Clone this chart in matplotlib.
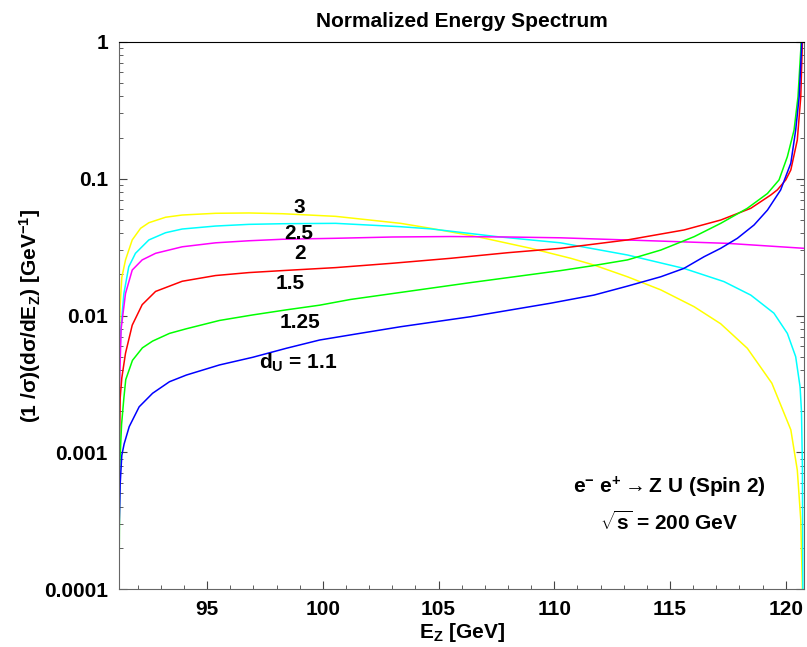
import matplotlib
matplotlib.use('Agg')
import matplotlib.pyplot as plt
from matplotlib.ticker import FixedLocator, NullFormatter
import numpy as np

plt.rcParams['font.family'] = ['Liberation Sans', 'DejaVu Sans']
plt.rcParams['font.weight'] = 'bold'
plt.rcParams['mathtext.fontset'] = 'custom'
plt.rcParams['mathtext.rm'] = 'Liberation Sans:bold'
plt.rcParams['mathtext.bf'] = 'Liberation Sans:bold'
plt.rcParams['mathtext.it'] = 'Liberation Sans:bold'
plt.rcParams['mathtext.default'] = 'bf'

# ------------------------------------------------------------------
# data (E_Z in GeV, normalized spectrum)
# ------------------------------------------------------------------
E_3 = [91.19, 91.20, 91.24, 91.31, 91.47, 91.76, 92.12, 92.48, 93.20, 93.92,
       95.36, 96.80, 98.25, 100.55, 103.36, 104.66, 106.67, 108.98, 110.71,
       111.71, 113.16, 114.6, 116.04, 117.19, 118.34, 119.4, 120.22, 120.5,
       120.65, 120.72]
V_3 = [1e-4, 0.005, 0.012, 0.019, 0.0255, 0.0357, 0.0434, 0.0477, 0.0523, 0.0543,
       0.0559, 0.0562, 0.0555, 0.0531, 0.0472, 0.0434, 0.0377, 0.031, 0.0262,
       0.0234, 0.0192, 0.0154, 0.0116, 0.0087, 0.00576, 0.0032, 0.00146, 0.00074,
       0.00032, 1e-4]

E_25 = [91.19, 91.21, 91.27, 91.40, 91.61, 91.90, 92.48, 93.20, 93.92, 95.36,
        96.80, 98.25, 100.55, 103.36, 104.66, 107.54, 110.27, 113.16, 115.6,
        117.33, 118.49, 119.49, 120.07, 120.43, 120.62, 120.68, 120.72, 120.74]
V_25 = [1e-4, 0.004, 0.008, 0.0145, 0.0227, 0.0285, 0.0357, 0.0403, 0.0429, 0.0451,
        0.0464, 0.0469, 0.0472, 0.0446, 0.0430, 0.0377, 0.034, 0.0277, 0.0221,
        0.0177, 0.0141, 0.0104, 0.0074, 0.0050, 0.0030, 0.0020, 0.0008, 1e-4]

E_2 = [91.19, 91.21, 91.28, 91.47, 91.76, 92.19, 92.77, 93.92, 95.36, 96.80,
       98.25, 100.55, 103.0, 105.5, 108.0, 110.27, 114.6, 117.48, 120.79]
V_2 = [1e-4, 0.003, 0.008, 0.0145, 0.0215, 0.0255, 0.0285, 0.0318, 0.0340, 0.0352,
       0.0361, 0.0367, 0.0375, 0.0378, 0.0375, 0.0370, 0.0350, 0.0337, 0.0310]

E_15 = [91.19, 91.20, 91.24, 91.31, 91.47, 91.76, 92.19, 92.77, 93.92, 95.36,
        96.80, 98.25, 100.55, 103.0, 105.52, 108.0, 110.27, 113.16, 115.6,
        117.19, 118.49, 119.35, 119.64, 120.0, 120.22, 120.5, 120.65, 120.72,
        120.75]
V_15 = [1e-4, 0.001, 0.0025, 0.0035, 0.0053, 0.0085, 0.0120, 0.0150, 0.0178, 0.0196,
        0.0206, 0.0213, 0.0224, 0.0241, 0.0262, 0.0288, 0.031, 0.0357, 0.0422,
        0.0499, 0.0608, 0.0760, 0.083, 0.098, 0.116, 0.192, 0.398, 1.0,
        1.5]

E_125 = [91.19, 91.22, 91.30, 91.40, 91.48, 91.77, 92.2, 92.64, 93.37, 94.10,
         95.53, 96.97, 98.42, 99.86, 101.19, 106.38, 110.27, 111.57, 113.16,
         114.6, 116.04, 117.19, 118.34, 119.21, 119.71, 120.07, 120.36, 120.53,
         120.65, 120.70]
V_125 = [1e-4, 0.0008, 0.0016, 0.0025, 0.0034, 0.0047, 0.0058, 0.0065, 0.0074, 0.0080,
         0.0092, 0.0101, 0.0110, 0.0119, 0.0131, 0.0174, 0.0213, 0.0230, 0.0255,
         0.0301, 0.0377, 0.0472, 0.0608, 0.078, 0.098, 0.145, 0.227, 0.398,
         0.874, 1.5]

E_11 = [91.19, 91.20, 91.24, 91.31, 91.41, 91.63, 92.06, 92.64, 93.37, 94.10,
        95.53, 96.97, 98.42, 99.86, 101.59, 103.36, 106.38, 109.84, 111.71,
        113.16, 114.6, 115.6, 116.47, 117.19, 117.91, 118.63, 119.21, 119.78,
        120.22, 120.43, 120.58, 120.68, 120.72]
V_11 = [1e-4, 0.0003, 0.00059, 0.00095, 0.00115, 0.00154, 0.00215, 0.0027, 0.00328, 0.00367,
        0.00435, 0.00495, 0.00576, 0.00662, 0.0074, 0.00828, 0.0098, 0.0123, 0.0141,
        0.0164, 0.0192, 0.0221, 0.0269, 0.031, 0.0367, 0.0459, 0.059, 0.0828,
        0.130, 0.227, 0.398, 0.874, 1.5]

series = [
    (E_3, V_3, '#FFFF00'),
    (E_25, V_25, '#00FFFF'),
    (E_2, V_2, '#FF00FF'),
    (E_15, V_15, '#FF0000'),
    (E_125, V_125, '#00FF00'),
    (E_11, V_11, '#0000FF'),
]

curve_labels = ['3', '2.5', '2', '1.5', '1.25', r'd$_{\mathbf{U}}$ = 1.1']
label_E = [99.0, 98.95, 99.0, 98.6, 99.0, 98.95]
label_V = [0.0621, 0.0401, 0.0282, 0.0170, 0.00896, 0.0045]

y_ticks = [1e-4, 1e-3, 1e-2, 1e-1, 1]
y_ticklabels = ['0.0001', '0.001', '0.01', '0.1', '1']
x_ticks = [95, 100, 105, 110, 115, 120]

FS = 15

fig = plt.figure(figsize=(8.07, 6.47), dpi=100)
ax = fig.add_axes([0.1475, 0.0896, 0.8488, 0.8455])

for E, V, c in series:
    ax.plot(E, V, color=c, lw=1.1, solid_joinstyle='round')

ax.set_yscale('log')
ax.set_xlim(91.19, 120.79)
ax.set_ylim(1e-4, 1)

ax.yaxis.set_major_locator(FixedLocator(y_ticks))
ax.set_yticklabels(y_ticklabels)
minor = [m * 10.0 ** k for k in range(-4, 0) for m in range(2, 10)]
ax.yaxis.set_minor_locator(FixedLocator(minor))
ax.yaxis.set_minor_formatter(NullFormatter())
ax.set_xticks(x_ticks)
ax.set_xticks(np.arange(92, 121, 1), minor=True)

ax.tick_params(which='both', direction='in', left=True, right=True,
               top=False, bottom=True, labelsize=FS, color='#444444', pad=8)
ax.tick_params(which='major', length=6, width=0.8)
ax.tick_params(which='minor', length=3, width=0.6)
for side in ['left', 'right', 'bottom']:
    ax.spines[side].set_color('#666666')
ax.spines['top'].set_color('black')

for t, e, v in zip(curve_labels, label_E, label_V):
    ax.text(e, v, t, fontsize=FS, fontweight='bold', ha='center', va='center')

ax.set_title('Normalized Energy Spectrum', fontsize=FS, fontweight='bold', pad=11)
ax.set_xlabel(r'E$_{\mathbf{Z}}$ [GeV]', fontsize=FS, fontweight='bold', labelpad=1)
ax.set_ylabel(r'(1 /$\sigma$)(d$\sigma$/dE$_{\mathbf{Z}}$) [GeV$^{\mathbf{-1}}$]',
              fontsize=FS, fontweight='bold', labelpad=1)

ax.text(0.803, 0.1865, r'e$^{-}$ e$^{+}$$\rightarrow$Z U (Spin 2)', transform=ax.transAxes,
        fontsize=FS, fontweight='bold', ha='center', va='center')
ax.text(0.803, 0.122, r'$\sqrt{\mathbf{s}}$ = 200 GeV', transform=ax.transAxes,
        fontsize=FS, fontweight='bold', ha='center', va='center')

fig.savefig('out.png', dpi=100, facecolor='white')
